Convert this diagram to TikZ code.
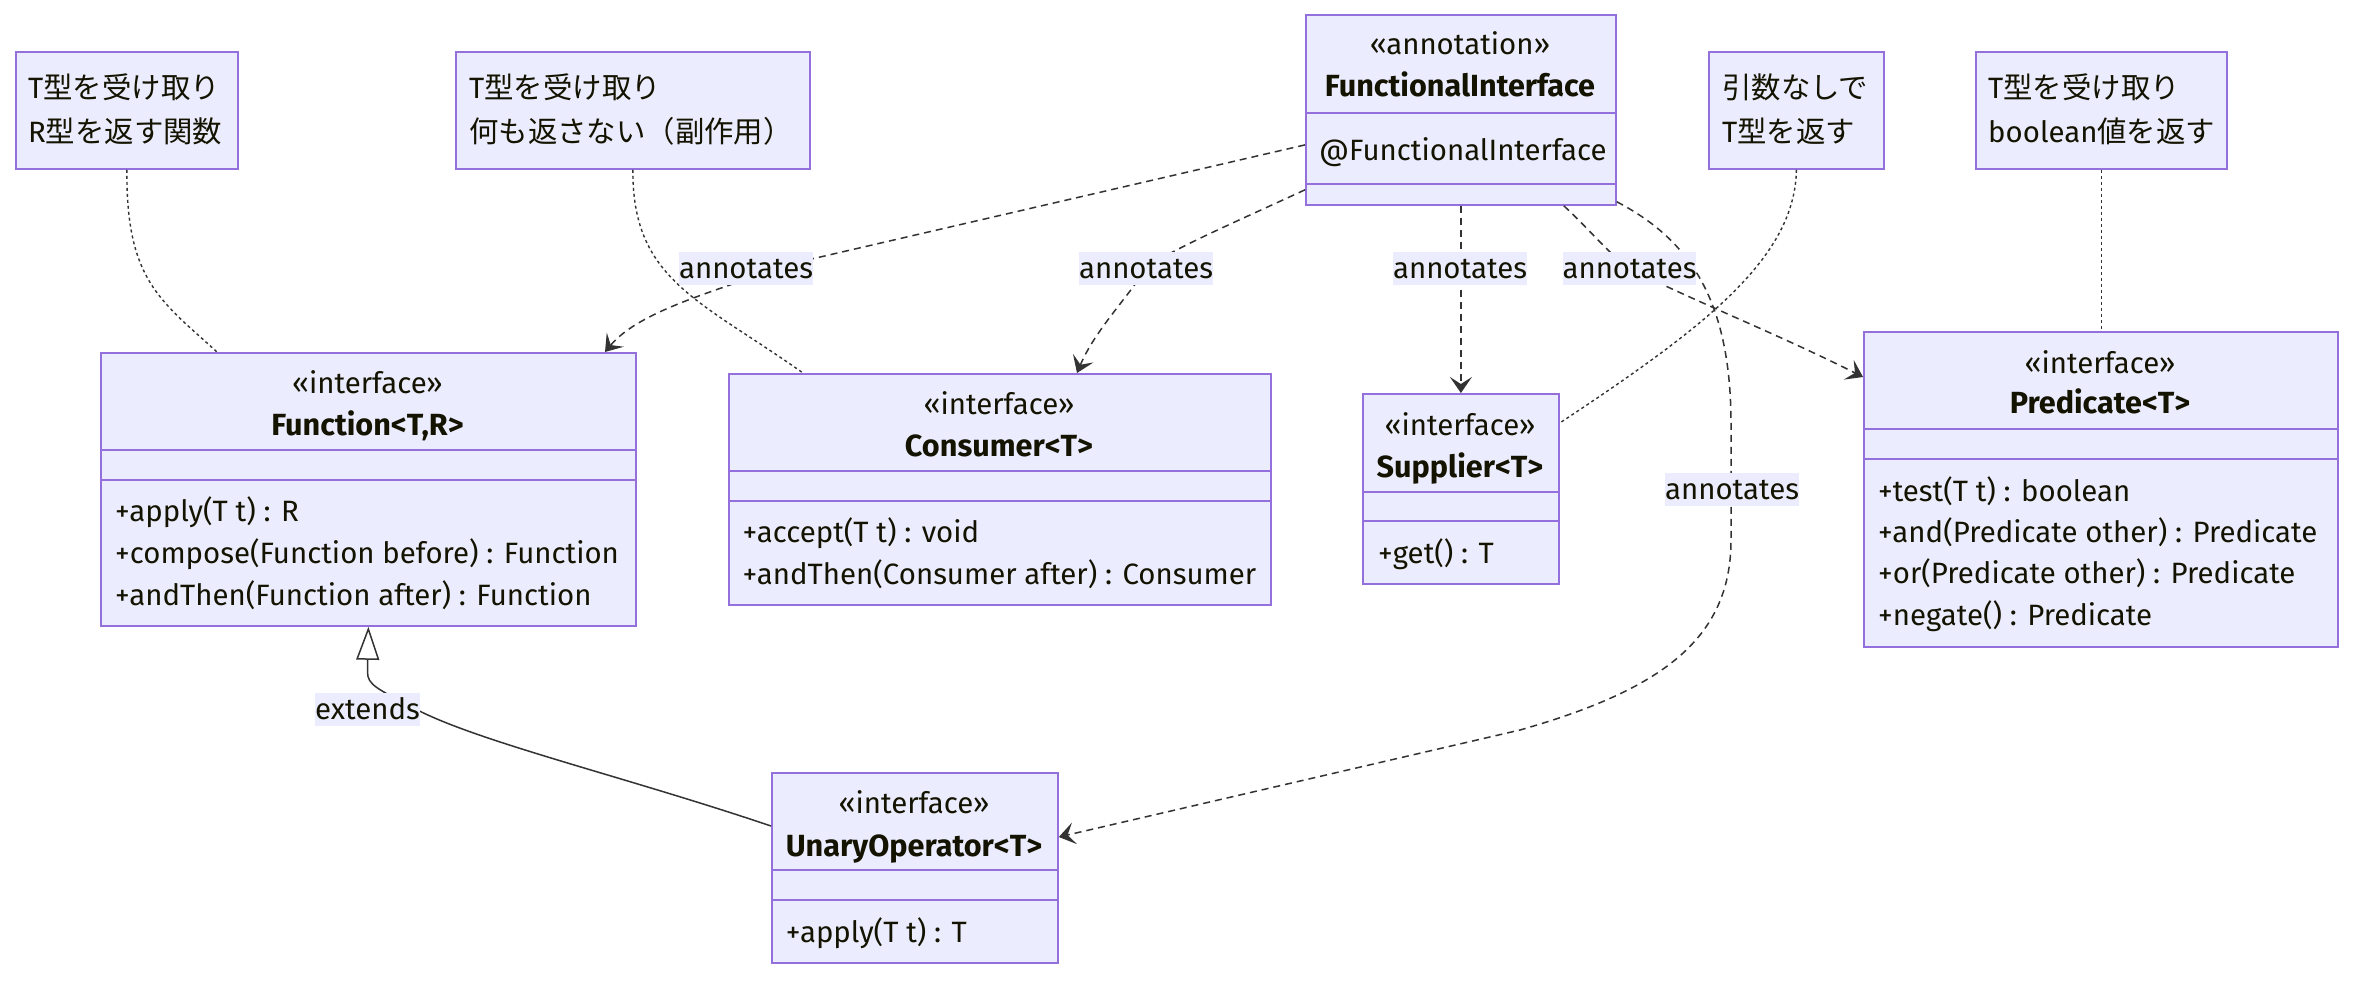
\documentclass[tikz,border=0pt]{standalone}
\usepackage{fontspec}
\setmainfont{Fira Sans}
\newfontfamily\cjk{Noto Sans CJK JP}
\usetikzlibrary{arrows.meta,calc}
\definecolor{boxfill}{HTML}{ECECFF}
\definecolor{boxline}{HTML}{9370DB}
\definecolor{edgecol}{HTML}{333333}
\definecolor{ink}{HTML}{131300}

\begin{document}
\begin{tikzpicture}[x=1pt,y=-1pt,
  box/.style={draw=boxline, fill=boxfill, line width=1.8pt, inner sep=0pt, anchor=north west},
  divider/.style={draw=boxline, line width=1.8pt},
  txt/.style={font=\fontsize{29.4}{35}\selectfont, text=ink, inner sep=0pt},
  hd/.style={txt, anchor=base},
  bhd/.style={txt, anchor=base, font=\fontsize{30.6}{36}\selectfont\bfseries},
  mtd/.style={txt, anchor=base west},
  elabel/.style={txt, fill=boxfill, minimum width=131pt, minimum height=33pt, text height=23pt, text depth=3pt},
  annot/.style={draw=edgecol, line width=1.5pt, dash pattern=on 7pt off 5pt,
    -{Stealth[length=16pt, width=22pt, inset=7pt]}},
  noteline/.style={draw=edgecol, line width=1.4pt, dash pattern=on 3pt off 3pt},
  extline/.style={draw=edgecol, line width=1.5pt,
    -{Triangle[open, fill=white, length=33pt, width=23pt]}}
]
\fill[white] (0,0) rectangle (2368,984);
\useasboundingbox (0,0) rectangle (2368,984);

% ---- notes ----
\node[box, minimum width=222pt, minimum height=117pt] (n1) at (15,51) {};
\node[mtd] (n1a) at (28,99) {T{\cjk 型を受け取り}};
\node[mtd] (n1b) at (28,143) {R{\cjk 型を返す関数}};

\node[box, minimum width=354pt, minimum height=117pt] (n2) at (455,51) {};
\node[mtd] (n2a) at (469,99) {T{\cjk 型を受け取り}};
\node[mtd] (n2b) at (469,143) {{\cjk 何も返さない（副作用）}};

\node[box, minimum width=175pt, minimum height=117pt] (n3) at (1708,51) {};
\node[mtd] (n3a) at (1722,99) {{\cjk 引数なしで}};
\node[mtd] (n3b) at (1722,143) {T{\cjk 型を返す}};

\node[box, minimum width=251pt, minimum height=117pt] (n4) at (1975,51) {};
\node[mtd] (n4a) at (1988,99) {T{\cjk 型を受け取り}};
\node[mtd] (n4b) at (1988,143) {boolean{\cjk 値を返す}};

% ---- FunctionalInterface ----
\node[box, minimum width=310pt, minimum height=190pt] (fi) at (1305,14) {};
\draw[divider] ([yshift=-99pt]fi.north west) -- ([yshift=-99pt]fi.north east);
\draw[divider] ([yshift=-170pt]fi.north west) -- ([yshift=-170pt]fi.north east);
\node[hd] (fis) at (1460,55) {«annotation»};
\node[bhd] (fin) at (1460,97) {FunctionalInterface};
\node[mtd] (fia) at (1319,161) {@FunctionalInterface};

% ---- Function<T,R> ----
\node[box, minimum width=535pt, minimum height=273pt] (fn) at (100,352) {};
\draw[divider] ([yshift=-98pt]fn.north west) -- ([yshift=-98pt]fn.north east);
\draw[divider] ([yshift=-128pt]fn.north west) -- ([yshift=-128pt]fn.north east);
\node[hd] (fns) at (367.5,393) {«interface»};
\node[bhd] (fnn) at (367.5,435) {Function<T,R>};
\node[mtd] (fnm1) at (115,521) {+apply(T t) : R};
\node[mtd] (fnm2) at (115,563) {+compose(Function before) : Function};
\node[mtd] (fnm3) at (115,605) {+andThen(Function after) : Function};

% ---- Consumer<T> ----
\node[box, minimum width=542pt, minimum height=231pt] (cs) at (728,373) {};
\draw[divider] ([yshift=-98pt]cs.north west) -- ([yshift=-98pt]cs.north east);
\draw[divider] ([yshift=-128pt]cs.north west) -- ([yshift=-128pt]cs.north east);
\node[hd] (css) at (999,414) {«interface»};
\node[bhd] (csn) at (999,456) {Consumer<T>};
\node[mtd] (csm1) at (742.5,542) {+accept(T t) : void};
\node[mtd] (csm2) at (742.5,584) {+andThen(Consumer after) : Consumer};

% ---- Supplier<T> ----
\node[box, minimum width=196pt, minimum height=190pt] (sp) at (1362,393) {};
\draw[divider] ([yshift=-99pt]sp.north west) -- ([yshift=-99pt]sp.north east);
\draw[divider] ([yshift=-128pt]sp.north west) -- ([yshift=-128pt]sp.north east);
\node[hd] (sps) at (1460,435) {«interface»};
\node[bhd] (spn) at (1460,477) {Supplier<T>};
\node[mtd] (spm1) at (1378,563) {+get() : T};

% ---- Predicate<T> ----
\node[box, minimum width=474pt, minimum height=315pt] (pr) at (1863,331) {};
\draw[divider] ([yshift=-98pt]pr.north west) -- ([yshift=-98pt]pr.north east);
\draw[divider] ([yshift=-128pt]pr.north west) -- ([yshift=-128pt]pr.north east);
\node[hd] (prs) at (2100,373) {«interface»};
\node[bhd] (prn) at (2100,413) {Predicate<T>};
\node[mtd] (prm1) at (1878,501) {+test(T t) : boolean};
\node[mtd] (prm2) at (1878,542) {+and(Predicate other) : Predicate};
\node[mtd] (prm3) at (1878,583) {+or(Predicate other) : Predicate};
\node[mtd] (prm4) at (1878,625) {+negate() : Predicate};

% ---- UnaryOperator<T> ----
\node[box, minimum width=286pt, minimum height=190pt] (uo) at (771,772) {};
\draw[divider] ([yshift=-98pt]uo.north west) -- ([yshift=-98pt]uo.north east);
\draw[divider] ([yshift=-128pt]uo.north west) -- ([yshift=-128pt]uo.north east);
\node[hd] (uos) at (914,813) {«interface»};
\node[bhd] (uon) at (914,856) {UnaryOperator<T>};
\node[mtd] (uom1) at (785.6,942) {+apply(T t) : T};

% ---- note links ----
\draw[noteline] (n1.south) .. controls (126,280) and (160,300) .. ([xshift=117pt]fn.north west);
\draw[noteline] (n2.south) .. controls (632,280) and (700,300) .. ([xshift=75pt]cs.north west);
\draw[noteline] (n3.south) .. controls (1795,260) and (1700,330) .. ([yshift=-30pt]sp.north east);
\draw[noteline] (n4.south) -- (n4.south |- pr.north);

% ---- annotates ----
\draw[annot] ([yshift=-35pt]fi.west) -- (790,264)
  .. controls (720,290) and (640,310) .. ([xshift=505pt]fn.north west);
\draw[annot] ([yshift=16pt]fi.south west) .. controls (1240,220) and (1170,250) .. (1146,268)
  .. controls (1130,295) and (1095,330) .. ([xshift=349pt]cs.north west);
\draw[annot] (fi.south) -- (sp.north);
\draw[annot] ([xshift=-53pt]fi.south east) .. controls (1590,230) and (1610,255) .. (1629,268)
  .. controls (1680,295) and (1780,335) .. ([yshift=-46pt]pr.north west);
\draw[annot] ([yshift=4pt]fi.south east) .. controls (1690,240) and (1730,300) .. (1731,420)
  -- (1731,540) .. controls (1731,640) and (1660,690) .. (1520,730)
  -- ([yshift=-65pt]uo.north east);

% ---- extends ----
\draw[extline] ([yshift=-54pt]uo.north west) .. controls (620,775) and (470,740) .. (410,706)
  .. controls (378,689) and (367.5,685) .. (367.5,672) -- (fn.south);

% ---- edge labels ----
\node[elabel] (l1) at (746,268.5) {annotates};
\node[elabel] (l2) at (1146,268.5) {annotates};
\node[elabel] (l3) at (1460,268.5) {annotates};
\node[elabel] (l4) at (1629.5,268.5) {annotates};
\node[elabel] (l5) at (1732,489) {annotates};
\node[elabel, minimum width=103pt] (l6) at (367.5,709) {extends};
\end{tikzpicture}
\end{document}
